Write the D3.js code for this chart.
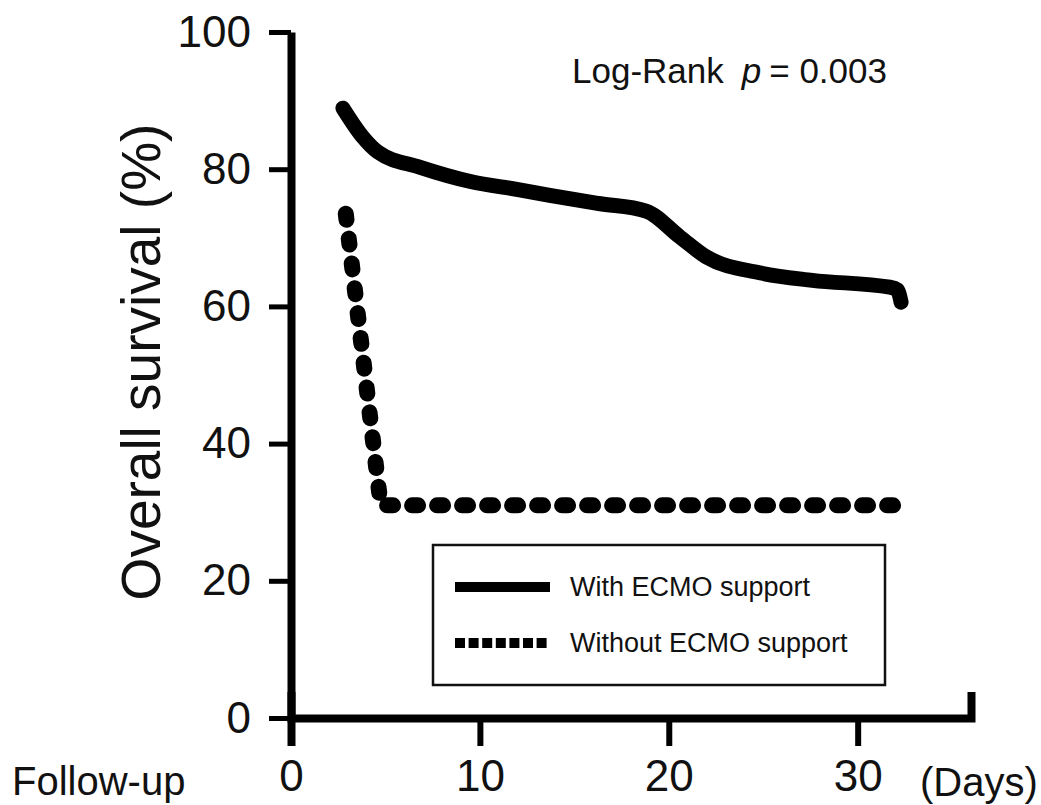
<!DOCTYPE html>
<html>
<head>
<meta charset="utf-8">
<script src="https://cdn.jsdelivr.net/npm/d3@7"></script>
<style>
  body { margin: 0; background: #fff; }
  svg { display: block; font-family: 'Liberation Sans', Arial, sans-serif; }
</style>
</head>
<body>
<div id="container"></div>
<script>
// with ECMO support (solid)
const withDays = [2.75, 3.8, 4.6, 6.8, 9.5, 12.1, 13.7, 16.3, 18.8, 20.6, 22.0, 24.8, 27.6, 31.7, 32.1, 32.3];
const withSurv = [88.9, 84.7, 82.5, 80.3, 78.2, 77.0, 76.2, 75.0, 73.9, 70.1, 67.2, 64.9, 63.8, 62.8, 62.4, 60.6];

// without ECMO support (dashed)
const withoutDays = [2.9, 4.75, 32.5];
const withoutSurv = [73.5, 31.0, 31.0];

const xTicks = [0, 10, 20, 30];
const yTicks = [0, 20, 40, 60, 80, 100];
const seriesNames = ['With ECMO support', 'Without ECMO support'];

const WIDTH = 1041;
const HEIGHT = 805;

const svg = d3
  .select('#container')
  .append('svg')
  .attr('width', WIDTH)
  .attr('height', HEIGHT);

const x = d3.scaleLinear().domain([0, 36]).range([291, 971]);
const y = d3.scaleLinear().domain([0, 100]).range([718, 32]);

// y axis
const yAxis = svg
  .append('g')
  .attr('transform', `translate(${x(0)}, 0)`)
  .call(d3.axisLeft(y).tickValues(yTicks).tickSize(22).tickSizeOuter(0).tickPadding(18));

yAxis.select('.domain').attr('stroke-width', 8).attr('stroke', '#000');
yAxis.selectAll('.tick line').attr('stroke-width', 5).attr('stroke', '#000');
yAxis
  .selectAll('.tick text')
  .attr('font-size', 44)
  .attr('fill', '#111')
  .attr('font-family', "'Liberation Sans', Arial, sans-serif");

// x axis
const xAxis = svg
  .append('g')
  .attr('transform', `translate(0, ${y(0)})`)
  .call(d3.axisBottom(x).tickValues(xTicks).tickSize(28).tickSizeOuter(-26).tickPadding(14));

xAxis
  .select('.domain')
  .attr('stroke-width', 8)
  .attr('stroke', '#000')
  .attr('stroke-linejoin', 'miter');
xAxis.selectAll('.tick line').attr('stroke-width', 6).attr('stroke', '#000');
xAxis.selectAll('.tick line').filter((d) => d === 0).attr('stroke-width', 8);
xAxis
  .selectAll('.tick text')
  .attr('font-size', 44)
  .attr('fill', '#111')
  .attr('font-family', "'Liberation Sans', Arial, sans-serif");

// axis labels
svg
  .append('text')
  .attr('transform', 'translate(160, 362) rotate(-90)')
  .attr('text-anchor', 'middle')
  .attr('font-size', 55)
  .attr('fill', '#111')
  .text('Overall survival (%)');

svg
  .append('text')
  .attr('x', 12)
  .attr('y', 795)
  .attr('font-size', 40)
  .attr('fill', '#111')
  .text('Follow-up');

svg
  .append('text')
  .attr('x', 920)
  .attr('y', 796)
  .attr('font-size', 40)
  .attr('fill', '#111')
  .text('(Days)');

// log-rank annotation
const logRank = svg
  .append('text')
  .attr('x', 572)
  .attr('y', 83)
  .attr('font-size', 35)
  .attr('fill', '#111')
  .attr('xml:space', 'preserve');
logRank.append('tspan').text('Log-Rank');
logRank.append('tspan').attr('dx', 18).attr('font-style', 'italic').text('p');
logRank.append('tspan').attr('dx', 8).text('= 0.003');

// curves
const line = d3
  .line()
  .x((d) => x(d[0]))
  .y((d) => y(d[1]));

svg
  .append('path')
  .datum(withDays.map((d, i) => [d, withSurv[i]]))
  .attr('fill', 'none')
  .attr('stroke', '#000')
  .attr('stroke-width', 15)
  .attr('stroke-linecap', 'round')
  .attr('stroke-linejoin', 'round')
  .attr('d', line.curve(d3.curveMonotoneX));

svg
  .append('path')
  .datum(withoutDays.map((d, i) => [d, withoutSurv[i]]))
  .attr('fill', 'none')
  .attr('stroke', '#000')
  .attr('stroke-width', 16)
  .attr('stroke-linecap', 'round')
  .attr('stroke-linejoin', 'round')
  .attr('stroke-dasharray', '6,19')
  .attr('d', line.curve(d3.curveLinear));

// legend
const legend = svg.append('g').attr('transform', 'translate(433, 545)');

legend
  .append('rect')
  .attr('width', 452)
  .attr('height', 140)
  .attr('fill', '#fff')
  .attr('stroke', '#111')
  .attr('stroke-width', 2.5);

const legendItem = legend
  .selectAll('g')
  .data(seriesNames)
  .enter()
  .append('g')
  .attr('transform', (d, i) => `translate(0, ${42 + i * 56})`);

legendItem
  .append('line')
  .attr('x1', 22)
  .attr('x2', 117)
  .attr('stroke', '#000')
  .attr('stroke-width', 10)
  .attr('stroke-dasharray', (d, i) => (i === 0 ? null : '10,3.6'));

legendItem
  .append('text')
  .attr('x', 137)
  .attr('y', 9)
  .attr('font-size', 27)
  .attr('fill', '#111')
  .text((d) => d);
</script>
</body>
</html>
